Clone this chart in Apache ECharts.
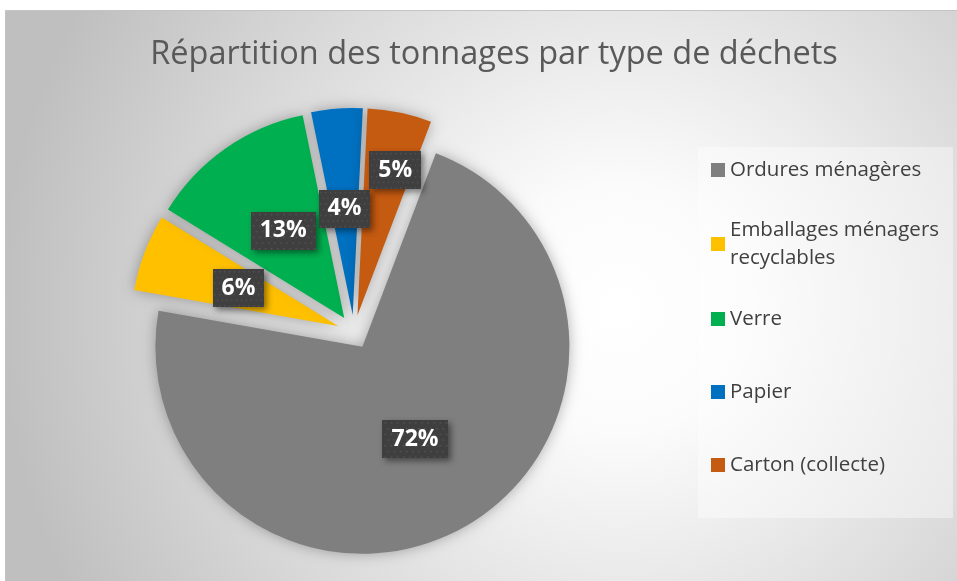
<!DOCTYPE html>
<html>
<head>
<meta charset="utf-8">
<script src="https://cdn.jsdelivr.net/npm/echarts@6/dist/echarts.min.js"></script>
<style>html,body{margin:0;padding:0;background:#fff;}#c{width:957px;height:581px;}</style>
</head>
<body>
<div id="c"></div>
<script>
// ---- data ----
const titleText = 'Répartition des tonnages par type de déchets';
const categories = ['Ordures ménagères', 'Emballages ménagers recyclables', 'Verre', 'Papier', 'Carton (collecte)'];
const legendLabels = ['Ordures ménagères', 'Emballages ménagers\nrecyclables', 'Verre', 'Papier', 'Carton (collecte)'];
const values = [72, 6, 13, 4, 5];
const colors = ['#7f7f7f', '#ffc000', '#00b050', '#0070c0', '#c55a11'];

// ---- layout ----
const legendCenters = [170, 244, 319, 392, 465];
const labelShift = [[0, 0], [0, 0], [0, 0], [0, 0], [16, -41]];

// dotted pattern for label boxes
const pat = document.createElement('canvas');
pat.width = 64; pat.height = 40;
(function () {
  const g = pat.getContext('2d');
  g.fillStyle = '#3f3f3f'; g.fillRect(0, 0, 64, 40);
  g.fillStyle = '#565656';
  for (let y = 2; y < 40; y += 6) for (let x = (y % 12 === 2 ? 2 : 5); x < 64; x += 6) g.fillRect(x, y, 1.5, 1.5);
})();

const chart = echarts.init(document.getElementById('c'));
const font = '"Open Sans", "Noto Sans", sans-serif';

const legends = categories.map((name, i) => {
  const multi = legendLabels[i].indexOf('\n') >= 0;
  return {
    data: [name],
    orient: 'vertical',
    left: 711,
    top: legendCenters[i] - (multi ? 42 : 14),
    padding: 0,
    icon: 'rect',
    itemWidth: 14,
    itemHeight: 14,
    itemGap: 0,
    selectedMode: false,
    formatter: () => legendLabels[i],
    textStyle: {
      fontFamily: font, fontSize: 20.5, color: '#404040', lineHeight: 28,
      padding: multi ? [28, 0, 0, 0] : 0
    }
  };
});

chart.setOption({
  animation: false,
  title: {
    text: titleText,
    left: 489, top: 33,
    textAlign: 'center',
    textStyle: { fontFamily: font, fontSize: 32.5, fontWeight: 'normal', color: '#595959' }
  },
  graphic: [
    {
      type: 'rect', z: -10, silent: true,
      shape: { x: 5.5, y: 10.5, width: 960, height: 580 },
      style: {
        fill: { type: 'radial', x: 620, y: 310, r: 620, global: true,
          colorStops: [{ offset: 0, color: '#ffffff' }, { offset: 0.2, color: '#fbfbfb' }, { offset: 1, color: '#bfbfbf' }] },
        stroke: '#c4c4c4', lineWidth: 1
      }
    },
    {
      type: 'rect', z: -5, silent: true,
      shape: { x: 698, y: 147, width: 255, height: 371 },
      style: { fill: 'rgba(255,255,255,0.4)' }
    }
  ],
  legend: legends,
  series: [{
    type: 'pie',
    center: [354, 332],
    radius: [0, 207],
    startAngle: 69.2,
    clockwise: true,
    selectedMode: 'multiple',
    selectedOffset: 17,
    percentPrecision: 0,
    emphasis: { disabled: true },
    itemStyle: { shadowBlur: 14, shadowColor: 'rgba(0,0,0,0.3)' },
    label: {
      show: true,
      position: 'inside',
      formatter: '{d}%',
      fontFamily: font, fontSize: 23, fontWeight: 'bold', color: '#ffffff',
      padding: [8, 9, 7, 9],
      backgroundColor: { image: pat },
      shadowBlur: 6, shadowOffsetX: 3, shadowOffsetY: 3, shadowColor: 'rgba(0,0,0,0.45)'
    },
    labelLine: { show: false },
    labelLayout: (p) => ({ dx: labelShift[p.dataIndex][0], dy: labelShift[p.dataIndex][1] }),
    data: categories.map((name, i) => ({
      name, value: values[i], selected: true,
      itemStyle: { color: colors[i] }
    }))
  }]
});
</script>
</body>
</html>
